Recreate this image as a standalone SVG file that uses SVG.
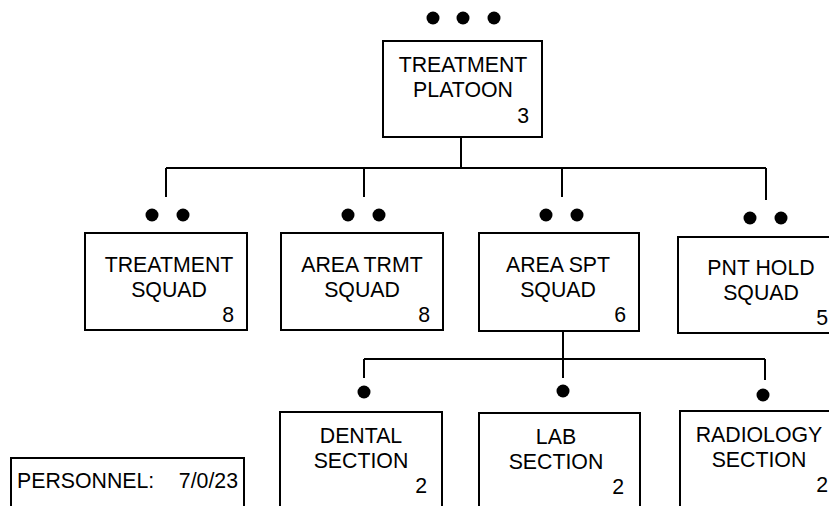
<svg xmlns="http://www.w3.org/2000/svg" width="829" height="506" viewBox="0 0 829 506">
<style>
.box{fill:#fff;stroke:#000;stroke-width:2}
.ln{fill:none;stroke:#000;stroke-width:2}
.t{font-family:"Liberation Sans",Arial,sans-serif;font-size:21.3px;fill:#000;text-anchor:middle}
.n{font-family:"Liberation Sans",Arial,sans-serif;font-size:21.3px;fill:#000;text-anchor:end}
.d{fill:#000}
</style>
<rect width="829" height="506" fill="#fff"/>
<g id="connectors">
<path class="ln" d="M461 137V168M166 168H766M166 168V197M364 168V197M562 168V197M766 168V200"/>
<path class="ln" d="M563 331V359M364 359H765M364 359V378M563 359V378M765 359V380"/>
</g>
<g id="platoon">
<circle class="d" cx="433" cy="18" r="6.5"/><circle class="d" cx="463" cy="18" r="6.5"/><circle class="d" cx="494" cy="18" r="6.5"/>
<rect class="box" x="383" y="41" width="159" height="96"/>
<text class="t" x="463" y="72">TREATMENT</text>
<text class="t" x="463" y="97">PLATOON</text>
<text class="n" x="529" y="123">3</text>
</g>
<g id="treatment-squad">
<circle class="d" cx="152" cy="215" r="6.5"/><circle class="d" cx="183" cy="215" r="6.5"/>
<rect class="box" x="85" y="233" width="162" height="97"/>
<text class="t" x="169" y="272">TREATMENT</text>
<text class="t" x="169" y="297">SQUAD</text>
<text class="n" x="234" y="322">8</text>
</g>
<g id="area-trmt-squad">
<circle class="d" cx="348" cy="215" r="6.5"/><circle class="d" cx="379" cy="215" r="6.5"/>
<rect class="box" x="281" y="233" width="162" height="97"/>
<text class="t" x="362" y="272">AREA TRMT</text>
<text class="t" x="362" y="297">SQUAD</text>
<text class="n" x="430" y="322">8</text>
</g>
<g id="area-spt-squad">
<circle class="d" cx="546" cy="215" r="6.5"/><circle class="d" cx="577" cy="215" r="6.5"/>
<rect class="box" x="479" y="233" width="160" height="98"/>
<text class="t" x="558" y="272">AREA SPT</text>
<text class="t" x="558" y="297">SQUAD</text>
<text class="n" x="626" y="322">6</text>
</g>
<g id="pnt-hold-squad">
<circle class="d" cx="750" cy="218" r="6.5"/><circle class="d" cx="781" cy="218" r="6.5"/>
<rect class="box" x="678" y="237" width="170" height="96"/>
<text class="t" x="761" y="275">PNT HOLD</text>
<text class="t" x="761" y="300">SQUAD</text>
<text class="n" x="828" y="325">5</text>
</g>
<g id="dental-section">
<circle class="d" cx="364" cy="392" r="6.5"/>
<rect class="box" x="280" y="412" width="162" height="110"/>
<text class="t" x="361" y="443">DENTAL</text>
<text class="t" x="361" y="468">SECTION</text>
<text class="n" x="427" y="493">2</text>
</g>
<g id="lab-section">
<circle class="d" cx="563" cy="391" r="6.5"/>
<rect class="box" x="479" y="413" width="161" height="110"/>
<text class="t" x="556" y="444">LAB</text>
<text class="t" x="556" y="469">SECTION</text>
<text class="n" x="624" y="494">2</text>
</g>
<g id="radiology-section">
<circle class="d" cx="763" cy="395" r="6.5"/>
<rect class="box" x="680" y="411" width="170" height="110"/>
<text class="t" x="759" y="442">RADIOLOGY</text>
<text class="t" x="759" y="467">SECTION</text>
<text class="n" x="828" y="492">2</text>
</g>
<g id="personnel">
<rect class="box" x="11" y="458" width="233" height="60"/>
<text style="font-family:'Liberation Sans',Arial,sans-serif;font-size:21.3px" x="17" y="488">PERSONNEL:</text>
<text class="n" x="238" y="488">7/0/23</text>
</g>
</svg>
